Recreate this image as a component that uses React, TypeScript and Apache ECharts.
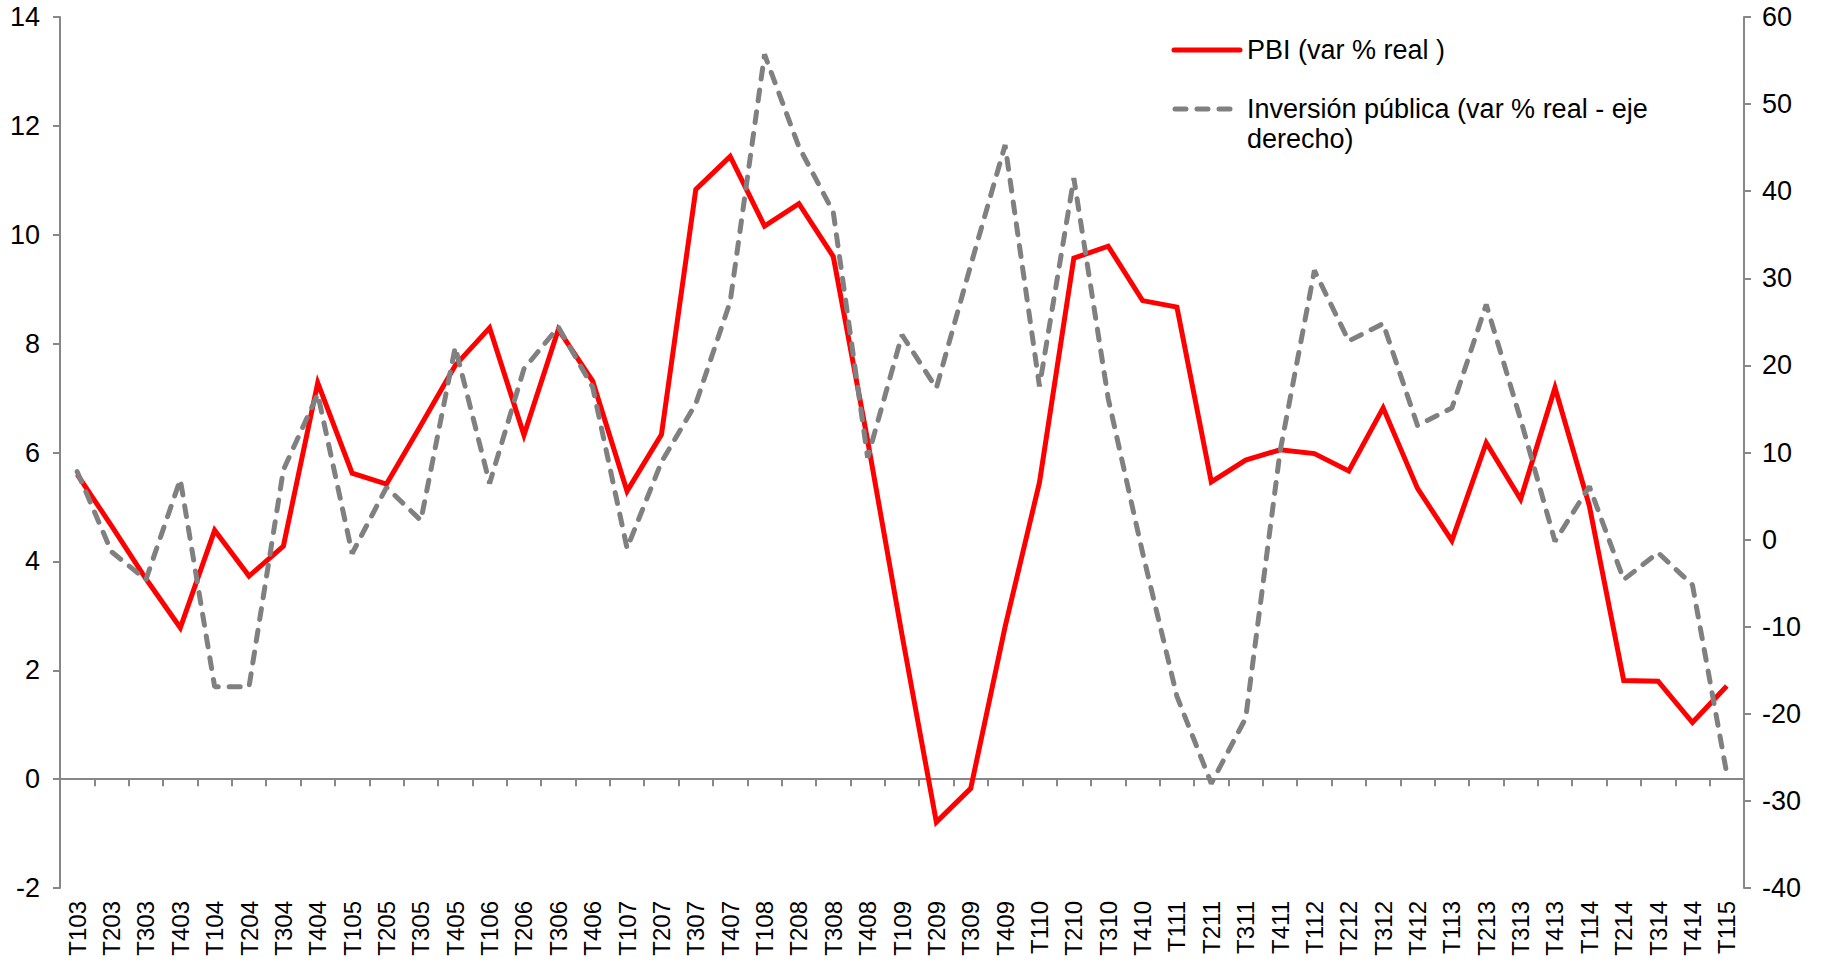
import React, { useEffect, useRef } from "react";
import * as echarts from "echarts";

const categories = [
  "T103", "T203", "T303", "T403",
  "T104", "T204", "T304", "T404",
  "T105", "T205", "T305", "T405",
  "T106", "T206", "T306", "T406",
  "T107", "T207", "T307", "T407",
  "T108", "T208", "T308", "T408",
  "T109", "T209", "T309", "T409",
  "T110", "T210", "T310", "T410",
  "T111", "T211", "T311", "T411",
  "T112", "T212", "T312", "T412",
  "T113", "T213", "T313", "T413",
  "T114", "T214", "T314", "T414",
  "T115",
];

const pbi = [
  5.6, 4.65, 3.68, 2.78,
  4.57, 3.73, 4.28, 7.28,
  5.62, 5.42, 6.5, 7.6,
  8.29, 6.32, 8.26, 7.31,
  5.29, 6.33, 10.83, 11.44,
  10.16, 10.57, 9.6, 6.22,
  2.65, -0.79, -0.17, 2.8,
  5.45, 9.57, 9.79, 8.79,
  8.67, 5.46, 5.86, 6.05,
  5.98, 5.66, 6.82, 5.34,
  4.38, 6.18, 5.14, 7.19,
  5.02, 1.81, 1.8, 1.04,
  1.71,
];

const inversion = [
  7.8, -1.4, -4.6, 6.9,
  -16.9, -16.9, 8.0, 16.7,
  -1.6, 6.0, 2.2, 22.1,
  6.45, 19.6, 24.4, 17.5,
  -1.0, 8.9, 15.6, 27.3,
  55.7, 45.1, 37.6, 9.4,
  23.5, 17.4, 31.5, 45.3,
  17.6, 41.5, 16.2, -1.5,
  -18.0, -28.0, -20.5, 10.1,
  30.9, 22.8, 24.8, 13.1,
  15.1, 27.0, 13.8, -0.2,
  6.1, -4.6, -1.5, -5.2,
  -26.9,
];

const seriesNames = ["PBI (var % real )", "Inversión pública (var % real - eje derecho)"];
const legendTexts = ["PBI (var % real )", "Inversión pública (var % real - eje\nderecho)"];

const AXIS_GREY = "#878787";
const FONT = "'Liberation Sans', Arial, sans-serif";

export default function App() {
  const ref = useRef<HTMLDivElement>(null);

  useEffect(() => {
    if (!ref.current) return;
    const chart = echarts.init(ref.current, undefined, { renderer: "svg" });
    const axisLine = { show: true, lineStyle: { color: AXIS_GREY, width: 2 } };
    const axisTick = { show: true, length: 7, lineStyle: { color: AXIS_GREY, width: 2 } };
    chart.setOption({
      animation: false,
      backgroundColor: "#ffffff",
      textStyle: { fontFamily: FONT },
      grid: { left: 60, right: 79, top: 17, bottom: 81, containLabel: false },
      xAxis: [
        {
          type: "category",
          data: categories,
          position: "bottom",
          boundaryGap: true,
          axisLine: { show: false, onZero: false },
          axisTick: { show: false },
          splitLine: { show: false },
          axisLabel: { interval: 0, rotate: 90, fontSize: 24, color: "#000", margin: 13, fontFamily: FONT },
        },
        {
          type: "category",
          data: categories,
          position: "top",
          boundaryGap: true,
          axisLine: { show: true, onZero: true, onZeroAxisIndex: 0, lineStyle: { color: AXIS_GREY, width: 2 } },
          axisTick: { show: true, inside: true, interval: 0, length: 7, lineStyle: { color: AXIS_GREY, width: 2 } },
          axisLabel: { show: false },
          splitLine: { show: false },
        },
      ],
      yAxis: [
        {
          type: "value",
          position: "left",
          min: -2,
          max: 14,
          interval: 2,
          axisLine,
          axisTick,
          splitLine: { show: false },
          axisLabel: { fontSize: 27, color: "#000", margin: 20, fontFamily: FONT },
        },
        {
          type: "value",
          position: "right",
          min: -40,
          max: 60,
          interval: 10,
          axisLine,
          axisTick,
          splitLine: { show: false },
          axisLabel: { fontSize: 27, color: "#000", margin: 18, fontFamily: FONT },
        },
      ],
      series: [
        {
          name: seriesNames[0],
          type: "line",
          data: pbi,
          xAxisIndex: 0,
          yAxisIndex: 0,
          symbol: "none",
          lineStyle: { color: "#ff0000", width: 5, join: "miter" },
          itemStyle: { color: "#ff0000" },
        },
        {
          name: seriesNames[1],
          type: "line",
          data: inversion,
          xAxisIndex: 0,
          yAxisIndex: 1,
          symbol: "none",
          lineStyle: { color: "#808080", width: 5, type: [11, 11], cap: "round" },
          itemStyle: { color: "#808080" },
        },
      ],
      graphic: [
        {
          type: "line",
          shape: { x1: 1174, y1: 50, x2: 1240, y2: 50 },
          style: { stroke: "#ff0000", lineWidth: 5, lineCap: "round" },
        },
        {
          type: "text",
          x: 1247,
          y: 50,
          style: { text: legendTexts[0], fontSize: 27, fontFamily: FONT, fill: "#000", verticalAlign: "middle" },
        },
        {
          type: "line",
          shape: { x1: 1175, y1: 109, x2: 1237, y2: 109 },
          style: { stroke: "#808080", lineWidth: 5, lineDash: [11, 11], lineCap: "round" },
        },
        {
          type: "text",
          x: 1247,
          y: 94,
          style: { text: legendTexts[1], fontSize: 27, lineHeight: 30, fontFamily: FONT, fill: "#000", verticalAlign: "top" },
        },
      ],
    });
    return () => chart.dispose();
  }, []);

  return (
    <div
      ref={ref}
      style={{ position: "fixed", left: 0, top: 0, width: 1823, height: 969, background: "#fff" }}
    />
  );
}
